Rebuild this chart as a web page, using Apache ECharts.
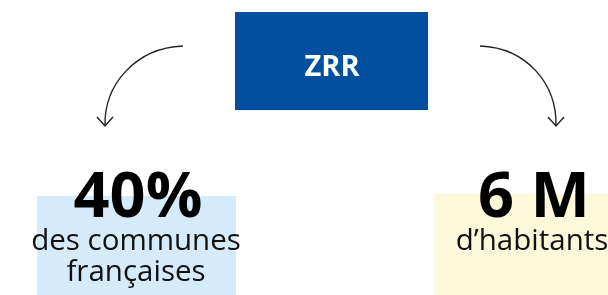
<!DOCTYPE html>
<html><head><meta charset="utf-8">
<script src="https://cdn.jsdelivr.net/npm/echarts@6/dist/echarts.min.js"></script>
<style>html,body{margin:0;padding:0;background:#fff}#c{width:608px;height:295px}</style>
</head><body><div id="c"></div>
<script>
const title = 'ZRR';
const statValues = ['40%', '6 M'];
const statLabels = [['des communes', 'françaises'], ['d\u2019habitants']];
const boxColors = ['#D5EBFA', '#FEF8DB'];

const chart = echarts.init(document.getElementById('c'), null, {renderer: 'canvas'});
const FONT = 'Open Sans';
const panels = [
  {rect: [37, 196, 199, 99], cx: 137, label: statLabels[0]},
  {rect: [434, 194, 174, 101], cx: 533, label: statLabels[1]}
];
const g = [];
g.push({type: 'rect', shape: {x: 235, y: 12, width: 193, height: 98}, style: {fill: '#00509F'}});
g.push({type: 'text', style: {x: 332, y: 68, text: title, fill: '#fff', font: 'bold 29px "' + FONT + '"', textAlign: 'center', textVerticalAlign: 'middle'}});
panels.forEach((p, i) => {
  g.push({type: 'rect', shape: {x: p.rect[0], y: p.rect[1], width: p.rect[2], height: p.rect[3]}, style: {fill: boxColors[i]}});
  g.push({type: 'text', style: {x: p.cx + 1, y: 199, text: statValues[i], fill: '#000', font: 'bold 63px "' + FONT + '"', textAlign: 'center', textVerticalAlign: 'middle'}});
  p.label.forEach((t, j) => {
    g.push({type: 'text', style: {x: p.cx - 1, y: 242 + j * 31, text: t, fill: '#111', font: '29.5px "' + FONT + '"', textAlign: 'center', textVerticalAlign: 'middle'}});
  });
});
// arrows
const arrowStyle = {stroke: '#222', lineWidth: 1.4, fill: null};
g.push({type: 'bezierCurve', shape: {x1: 183, y1: 46, cpx1: 135, cpy1: 48, cpx2: 104, cpy2: 85, x2: 105, y2: 126}, style: arrowStyle});
g.push({type: 'polyline', shape: {points: [[97, 117], [105, 126], [113, 117]]}, style: arrowStyle});
g.push({type: 'bezierCurve', shape: {x1: 480, y1: 46, cpx1: 528, cpy1: 48, cpx2: 557, cpy2: 85, x2: 556, y2: 126}, style: arrowStyle});
g.push({type: 'polyline', shape: {points: [[548, 117], [556, 126], [564, 117]]}, style: arrowStyle});

chart.setOption({animation: false, graphic: g});
</script></body></html>
